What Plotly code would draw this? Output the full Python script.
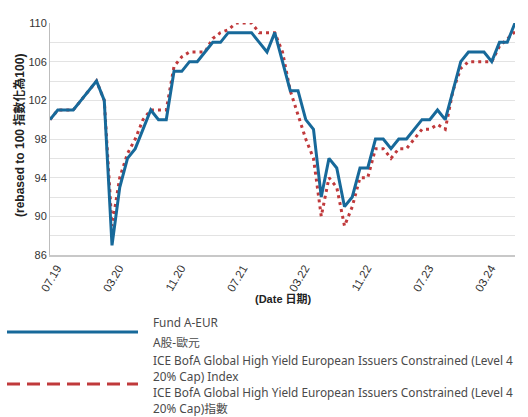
import pandas as pd
import plotly.graph_objects as go

months = [d.strftime("%m.%y") for d in pd.date_range("2019-07-01", "2024-07-01", freq="MS")]
fund = [100, 101, 101, 101, 102, 103, 104, 102, 87, 93, 96, 97, 99, 101, 100, 100,
        105, 105, 106, 106, 107, 108, 108, 109, 109, 109, 109, 108, 107, 109, 106, 103,
        103, 100, 99, 92, 96, 95, 91, 92, 95, 95, 98, 98, 97, 98, 98, 99, 100, 100,
        101, 100, 103, 106, 107, 107, 107, 106, 108, 108, 110]
bench = [100, 101, 101, 101, 102, 103, 104, 102, 89, 94, 96.5, 98, 100, 101, 101, 101,
         105.5, 106.5, 107, 107, 107, 108.4, 109, 109.3, 110, 110, 110, 109, 109, 109, 107, 103,
         100.5, 98, 96, 90, 94, 93, 89, 91, 94, 94, 97, 97, 96, 97, 97, 98, 99, 99,
         99.5, 99, 103, 105.3, 106, 106, 106, 106, 107.6, 108.4, 109.1]
tick_labels = months[::8]
y_ticks = list(range(86, 111, 4))
fund_name = "Fund A-EUR"
fund_name_zh = "A股-歐元"
bench_lines = ["ICE BofA Global High Yield European Issuers Constrained (Level 4",
               "20% Cap) Index",
               "ICE BofA Global High Yield European Issuers Constrained (Level 4",
               "20% Cap)指數"]

BLUE = "#17699a"
RED = "#c0393b"
W, H = 528, 417
L, R, T, B = 50, 13, 23, 162
PW, PH = W - L - R, H - T - B


def px(x):
    return (x - L) / PW


def py(y):
    return (H - B - y) / PH


fig = go.Figure()
fig.add_trace(go.Scatter(x=months, y=bench, mode="lines", name="bench",
                         line=dict(color=RED, width=3, dash="3px,4px")))
fig.add_trace(go.Scatter(x=months, y=fund, mode="lines", name="fund",
                         line=dict(color=BLUE, width=3)))

shapes = [
    dict(type="line", xref="paper", yref="paper", x0=px(7), x1=px(138), y0=py(332), y1=py(332),
         line=dict(color=BLUE, width=3)),
    dict(type="line", xref="paper", yref="paper", x0=px(7), x1=px(138), y0=py(384), y1=py(384),
         line=dict(color=RED, width=3, dash="13px,7px")),
]
LEGF = dict(family="Noto Sans, Noto Sans CJK TC", size=11.8, color="#4a4a4a")
ann = []
for text, y in [(fund_name, 322), (fund_name_zh, 342)] + list(zip(bench_lines, [360, 375.5, 392, 408])):
    ann.append(dict(xref="paper", yref="paper", x=px(151), y=py(y), text=text, showarrow=False,
                    xanchor="left", yanchor="middle", font=LEGF))
ann.append(dict(xref="paper", yref="paper", x=px(19), y=py(136), text="<b>(rebased to 100 指數化為100)</b>",
                textangle=-90, showarrow=False, xanchor="center", yanchor="middle",
                font=dict(family="Liberation Sans, Noto Sans CJK TC", size=12, color="#222")))
ann.append(dict(xref="paper", yref="paper", x=px(283), y=py(298), text="<b>(Date 日期)</b>",
                showarrow=False, xanchor="center", yanchor="middle",
                font=dict(family="Liberation Sans, Noto Sans CJK TC", size=11, color="#222")))

fig.update_layout(
    width=W, height=H, margin=dict(l=L, r=R, t=T, b=B, pad=0),
    paper_bgcolor="white", plot_bgcolor="white", showlegend=False,
    shapes=shapes, annotations=ann,
    font=dict(family="Liberation Sans", size=11, color="#333"),
)
fig.update_xaxes(type="category", range=[0, len(months) - 1], tickmode="array", tickvals=tick_labels,
                 ticktext=tick_labels, tickangle=-60, showgrid=False, showline=True,
                 linecolor="#c8c8c8", linewidth=2, ticks="", zeroline=False, ticklabelshift=7,
                 tickfont=dict(family="Liberation Sans", size=11.5, color="#333"))
fig.update_yaxes(range=[86, 110], tickmode="array", tickvals=y_ticks, showgrid=True,
                 gridcolor="#e3e3e3", gridwidth=1, showline=True, linecolor="#bdbdbd", linewidth=1,
                 zeroline=False, ticks="", minor=dict(dtick=2, tick0=86, showgrid=True, gridcolor="#e3e3e3"),
                 tickfont=dict(family="Liberation Sans", size=11, color="#333"))
fig.write_html("out.html", config={"displayModeBar": False},
               post_script="document.body.style.margin='0';document.body.style.overflow='hidden';")
